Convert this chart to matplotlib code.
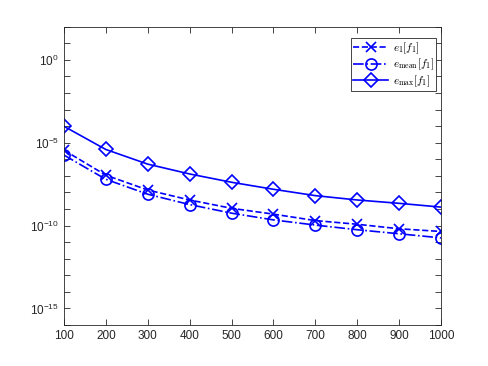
import numpy as np
import matplotlib.pyplot as plt
from matplotlib.ticker import FixedLocator, LogFormatterSciNotation, NullFormatter

plt.rcParams['font.family'] = ['Liberation Sans', 'DejaVu Sans']
plt.rcParams['mathtext.fontset'] = 'cm'

n = [100, 200, 300, 400, 500, 600, 700, 800, 900, 1000]
e1 = [3.55e-6, 1.1e-7, 1.4e-8, 3.5e-9, 1.1e-9, 4.9e-10, 2.0e-10, 1.2e-10, 6.4e-11, 4.4e-11]
e_mean = [1.8e-6, 6.2e-8, 7.8e-9, 1.85e-9, 5.6e-10, 2.2e-10, 1.07e-10, 5.6e-11, 3.2e-11, 1.8e-11]
e_max = [9.8e-5, 3.9e-6, 5.1e-7, 1.3e-7, 4.1e-8, 1.55e-8, 6.4e-9, 3.5e-9, 2.2e-9, 1.3e-9]

fig = plt.figure(figsize=(4.88, 3.66), dpi=100)
ax = fig.add_axes([0.131, 0.112, 0.773, 0.815])

blue = (0, 0, 1)
ax.semilogy(n, e1, '--', color=blue, marker='x', markersize=7, mew=1.2, lw=1.2,
            label=r'$e_1[f_1]$')
ax.semilogy(n, e_mean, '-.', color=blue, marker='o', markersize=8, mfc='none', mew=1.2, lw=1.2,
            label=r'$e_{\rm mean}[f_1]$')
ax.semilogy(n, e_max, '-', color=blue, marker='D', markersize=7.5, mfc='none', mew=1.2, lw=1.2,
            label=r'$e_{\rm max}[f_1]$')

ax.set_xlim(100, 1000)
ax.set_ylim(1e-16, 1e2)
ax.set_xticks(n)
ax.yaxis.set_major_locator(FixedLocator([1e-15, 1e-10, 1e-5, 1e0]))
ax.yaxis.set_major_formatter(LogFormatterSciNotation())
ax.yaxis.set_minor_locator(FixedLocator([10.0 ** k for k in range(-16, 3)]))
ax.yaxis.set_minor_formatter(NullFormatter())

ax.tick_params(which='both', direction='in', top=True, right=True, labelsize=8.5,
               width=0.6, colors='#262626')
ax.tick_params(which='major', length=4)
ax.tick_params(which='minor', length=4)
for s in ax.spines.values():
    s.set_linewidth(0.6)
    s.set_color('#262626')

leg = ax.legend(loc='upper right', bbox_to_anchor=(436 / 488, 1 - 38 / 366),
                bbox_transform=fig.transFigure, fontsize=8, handlelength=3.2,
                borderpad=0.2, labelspacing=0.1, handletextpad=0.4, fancybox=False,
                framealpha=1, borderaxespad=0)
leg.get_frame().set_edgecolor('#262626')
leg.get_frame().set_linewidth(0.6)

fig.savefig('out.png', dpi=100)
